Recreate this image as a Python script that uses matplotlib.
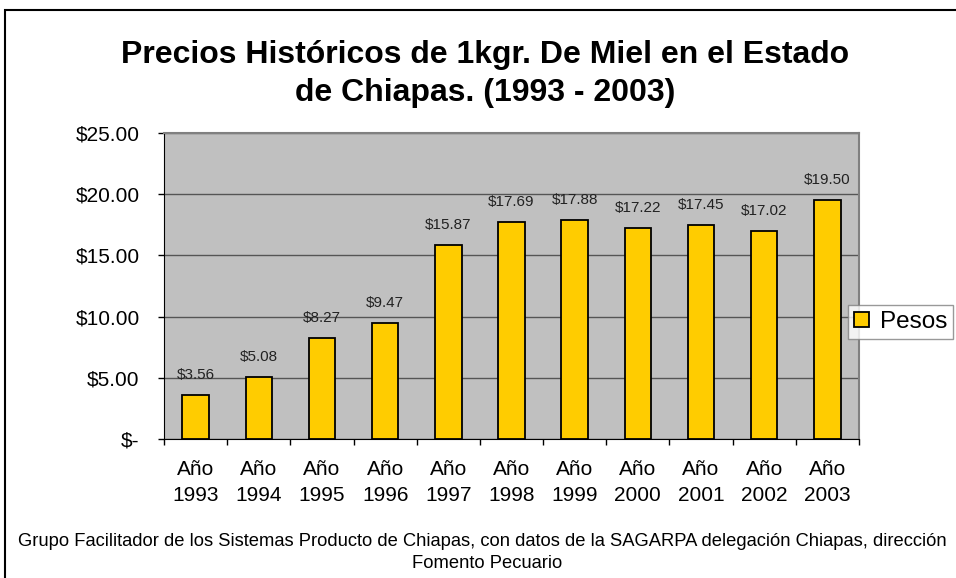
import matplotlib
matplotlib.use("Agg")
import matplotlib.pyplot as plt
from matplotlib.patches import Rectangle
import numpy as np

plt.rcParams['font.family'] = ['Liberation Sans', 'DejaVu Sans']

years = ["1993", "1994", "1995", "1996", "1997", "1998", "1999", "2000", "2001", "2002", "2003"]
categories = ["Año\n" + y for y in years]
values = [3.56, 5.08, 8.27, 9.47, 15.87, 17.69, 17.88, 17.22, 17.45, 17.02, 19.50]
yticks = [0, 5, 10, 15, 20, 25]
ytick_labels = ["$-", "$5.00", "$10.00", "$15.00", "$20.00", "$25.00"]
series_name = "Pesos"
title = "Precios Históricos de 1kgr. De Miel en el Estado\nde Chiapas. (1993 - 2003)"
footer1 = "Grupo Facilitador de los Sistemas Producto de Chiapas, con datos de la SAGARPA delegación Chiapas, dirección"
footer2 = "Fomento Pecuario"

W, H = 956, 578
fig = plt.figure(figsize=(W / 100, H / 100), dpi=100)
fig.patch.set_facecolor('white')

# outer chart border
fig.patches.append(Rectangle((5 / W, -0.05), 1.2, 1 - 10 / H + 0.05, transform=fig.transFigure,
                             fill=False, edgecolor='black', linewidth=1.5, zorder=0))

ax = fig.add_axes([164 / W, 1 - 439 / H, 695 / W, 306 / H])
ax.set_facecolor('#C0C0C0')
x = np.arange(len(values))
bars = ax.bar(x, values, width=0.42, color='#FFCC00', edgecolor='black', linewidth=1.3, zorder=3,
              label=series_name)
ax.set_xlim(-0.5, len(values) - 0.5)
ax.set_ylim(0, 25)
ax.set_yticks(yticks)
ax.set_yticklabels(ytick_labels, fontsize=15)
ax.yaxis.grid(True, color='#555555', linewidth=1.0, zorder=1)
ax.set_axisbelow(True)
ax.set_xticks(x)
ax.set_xticklabels(categories, fontsize=15, linespacing=1.45)
ax.tick_params(axis='x', which='major', length=0, pad=15)
ax.set_xticks(np.arange(len(values) + 1) - 0.5, minor=True)
ax.tick_params(axis='x', which='minor', length=4.5, width=1, direction='out')
ax.tick_params(axis='y', length=4.5, width=1, direction='out', pad=13)
for s in ['top', 'right']:
    ax.spines[s].set_color('#808080')
    ax.spines[s].set_linewidth(1.5)
for s in ['left', 'bottom']:
    ax.spines[s].set_color('black')

for xi, v in zip(x, values):
    ax.annotate(f"${v:.2f}", (xi, v), xytext=(0, 14.5), textcoords='offset points',
                ha='center', va='center', fontsize=11, color='#222222')

fig.text(485 / W, 1 - 74 / H, title, ha='center', va='center', fontsize=23, fontweight='bold',
         linespacing=1.38)

leg = fig.legend(handles=[bars], labels=[series_name], loc='upper left',
                 bbox_to_anchor=(848 / W, 1 - 305 / H), fontsize=17.5, frameon=True, fancybox=False,
                 handlelength=0.6, handleheight=0.6, handletextpad=0.45, borderpad=0.25,
                 borderaxespad=0)
leg.get_frame().set_edgecolor('#808080')
leg.get_frame().set_linewidth(1.0)

fig.text(18 / W, 1 - 541.5 / H, footer1, ha='left', va='center', fontsize=13.2)
fig.text(487 / W, 1 - 563 / H, footer2, ha='center', va='center', fontsize=13.2)

fig.savefig("out.png", dpi=100)
